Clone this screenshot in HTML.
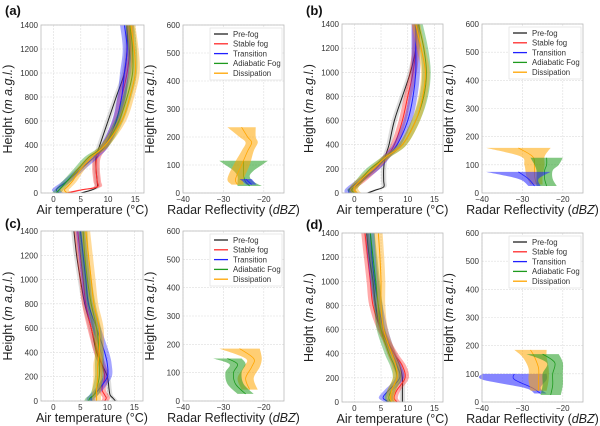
<!DOCTYPE html>
<html><head><meta charset="utf-8"><style>
body{margin:0;background:#fff;}
svg{display:block;font-family:"Liberation Sans","DejaVu Sans",sans-serif;}
</style></head><body>
<svg id="fig" width="600" height="426" viewBox="0 0 600 426" xmlns="http://www.w3.org/2000/svg"></svg>
<script>
const seriesNames=["Pre-fog","Stable fog","Transition","Adiabatic Fog","Dissipation"];
const colors=["#222222","#ff2a2a","#2020ff","#1e9a1e","#ffa500"];
const tHeights=[0,25,50,100,200,300,400,600,800,1000,1200,1400];
const tempA=[[5,7,8,8,7.8,7.8,8.5,10,11.5,13,13.5,13.5],[2.5,5,8,8,7.8,8,9.5,11.5,12.5,13.5,14,14],[1,0.5,1,2.5,5,7.5,9.5,11.5,12.5,13,13.5,13],[0.5,1,1.5,2.5,4.5,6.5,9.5,12,13.5,14.5,14.5,14],[2.5,2,2.5,3.5,5,7,9.5,12.5,14,15,14.8,14.2]];
const tempB=[[2.5,4,5.5,5.5,5.5,5.8,6.5,7.5,9,10.5,11.5,11.5],[0,-0.5,0,1.5,4,6,7.5,9,10,11,11.5,11.5],[-1,-1,-0.5,1,4,6,8,10,11,11.5,11.5,11.5],[0,-0.5,0,1,3,6,9,11.5,13,13.5,13,12],[0.5,0,0,1,3.5,6,9,11.5,12.8,13.3,12.5,11.5]];
const tempC=[[11.5,11,10.5,10.3,10,9,8,7,5.8,5,4.3,3.8],[9.5,9.8,9.5,9,9.5,9,8.2,7,6,5.5,5,4.5],[7,7,7.5,8.5,10,10,9.5,8,6.5,6,5.5,5],[6.5,6.8,7.5,8,8.5,8.5,8.5,8,7,6.3,5.8,5.5],[8,8,8,8,8.2,8.2,8.5,8.5,7.5,7,6.5,6]];
const tempD=[[9,9,9,9,9,8.5,7.5,5,4,3.5,2.8,2.3],[8,7.5,7.5,8,9.5,9,7.5,5,3.5,3,2.5,2],[6.5,5.5,5.5,6.5,8.5,8,7,5.5,4.5,3.8,3.3,3],[6.8,6.5,6.5,7,8,7.5,6.5,5,4.5,4,3.5,3],[7,6.8,6.8,7,8,7.8,7,5.5,5,5,4.8,4.5]];
const tempSpread=[0.5,0.7,0.8,0.8,0.8];
// radar: [seriesIndex, heights, mean, halfwidth]
const radarA=[[3,[25,40,60,80,100,115],[-23.5,-24.5,-25,-25,-25,-25],[3,2,1.5,2.5,4.5,6]],[4,[30,50,100,150,180,200,235],[-26.5,-27,-25.5,-24,-23,-24,-25.5],[1.5,2,2,1.5,1.5,2,3.5]],[2,[30,50],[-23,-24.5],[1.2,1.5]]];
const radarB=[[4,[30,60,100,130,160],[-26.5,-27,-27,-27.5,-31],[1.5,2,2.5,3,8]],[3,[25,50,80,100,125],[-24,-24.5,-24.5,-24,-24],[2.5,2,2,3,4]],[2,[25,50,75],[-27,-28.5,-31],[1.5,2.5,8]]];
const radarC=[[4,[40,80,120,150,185],[-23.5,-24.5,-23,-22.5,-26],[2,2,2,2,5]],[3,[25,60,100,130,150],[-24.5,-27,-27.5,-26.5,-29],[2,2,2,2,3.5]]];
const radarD=[[2,[30,50,80,100],[-25.5,-27.5,-32,-32],[1.5,2,8,8]],[4,[40,80,120,160,185],[-26,-26,-26,-27,-28],[2,2.5,2.5,3,4]],[3,[25,60,100,140,170],[-23,-22.5,-22.5,-22,-25],[2.5,2.5,2.5,2,4]]];
const tempXTicks=[0,5,10,15];
const tempYTicks=[0,200,400,600,800,1000,1200,1400];
const radXTicks=[-40,-30,-20];
const radYTicks=[0,100,200,300,400,500,600];

const svg=document.getElementById('fig');
const NS="http://www.w3.org/2000/svg";
function mk(tag,attrs,parent){const e=document.createElementNS(NS,tag);for(const k in attrs)e.setAttribute(k,attrs[k]);(parent||svg).appendChild(e);return e;}
function smooth(pts,start){
  let d=(start||'M')+pts[0][0].toFixed(2)+','+pts[0][1].toFixed(2);
  for(let i=0;i<pts.length-1;i++){
    const p0=pts[Math.max(0,i-1)],p1=pts[i],p2=pts[i+1],p3=pts[Math.min(pts.length-1,i+2)];
    const c1=[p1[0]+(p2[0]-p0[0])/6,p1[1]+(p2[1]-p0[1])/6],c2=[p2[0]-(p3[0]-p1[0])/6,p2[1]-(p3[1]-p1[1])/6];
    d+=` C${c1[0].toFixed(2)},${c1[1].toFixed(2)} ${c2[0].toFixed(2)},${c2[1].toFixed(2)} ${p2[0].toFixed(2)},${p2[1].toFixed(2)}`;
  }
  return d;
}

function axes(p,name,xt,yt,xlabel){
  const g=mk('g',{});
  
  
  const sx=v=>p.x0+(v-p.xmin)/(p.xmax-p.xmin)*(p.x1-p.x0);
  const sy=v=>p.y1-(v-p.ymin)/(p.ymax-p.ymin)*(p.y1-p.y0);
  xt.forEach(t=>{mk('line',{x1:sx(t),x2:sx(t),y1:p.y0,y2:p.y1,stroke:'#ddd','stroke-width':0.6,'stroke-dasharray':'2,1'},g);
    const tx=mk('text',{x:sx(t),y:p.y1+9,'font-size':8,'text-anchor':'middle',fill:'#333'},g);tx.textContent=t<0?'\u2212'+(-t):t;});
  yt.forEach(t=>{mk('line',{x1:p.x0,x2:p.x1,y1:sy(t),y2:sy(t),stroke:'#ddd','stroke-width':0.6,'stroke-dasharray':'2,1'},g);
    const tx=mk('text',{x:p.x0-3,y:sy(t)+3,'font-size':8,'text-anchor':'end',fill:'#333'},g);tx.textContent=t;});
  const xl=mk('text',{x:(p.x0+p.x1)/2,y:p.y1+21,'font-size':12.5,'text-anchor':'middle',fill:'#222'},g);
  
  xl.innerHTML=xlabel;
  const cy=(p.y0+p.y1)/2,cx=p.x0-29;
  const yl=mk('text',{x:cx,y:cy,'font-size':12.5,'text-anchor':'middle',fill:'#222',transform:`rotate(-90 ${cx} ${cy})`},g);
  
  yl.innerHTML='Height (<tspan font-style="italic">m a.g.l.</tspan>)';
  return {g,sx,sy};
}
function frame(p,g){mk('rect',{x:p.x0,y:p.y0,width:p.x1-p.x0,height:p.y1-p.y0,fill:'none',stroke:'#bbb','stroke-width':0.8},g);}

function tempPanel(p,data,name){
  const a=axes(p,name,tempXTicks,tempYTicks,'Air temperature (°C)');
  const clipId='c'+name;mk('clipPath',{id:clipId},a.g);
  mk('rect',{x:p.x0,y:p.y0,width:p.x1-p.x0,height:p.y1-p.y0},a.g.lastChild);
  const cg=mk('g',{'clip-path':`url(#${clipId})`},a.g);
  data.forEach((s,i)=>{
    const sp=tempSpread[i];
    const up=s.map((v,j)=>[a.sx(v+sp),a.sy(tHeights[j])]);
    const dn=s.map((v,j)=>[a.sx(v-sp),a.sy(tHeights[j])]).reverse();
    const band=mk('path',{d:smooth(up)+smooth(dn,' L')+' Z',fill:colors[i],'fill-opacity':i==0?0.15:0.4},cg);
    
    
    const ln=mk('path',{d:smooth(s.map((v,j)=>[a.sx(v),a.sy(tHeights[j])])),fill:'none',stroke:colors[i],'stroke-width':1},cg);
    
    
  });
  frame(p,a.g);
}
function radarPanel(p,data,name){
  const a=axes(p,name,radXTicks,radYTicks,'Radar Reflectivity (<tspan font-style="italic">dBZ</tspan>)');
  data.forEach(s=>{
    const [i,h,m,w]=s;
    const up=m.map((v,j)=>[a.sx(v+w[j]),a.sy(h[j])]);
    const dn=m.map((v,j)=>[a.sx(v-w[j]),a.sy(h[j])]).reverse();
    const band=mk('path',{d:smooth(up)+smooth(dn,' L')+' Z',fill:colors[i],'fill-opacity':0.55},a.g);
    
    
    const ln=mk('path',{d:smooth(m.map((v,j)=>[a.sx(v),a.sy(h[j])])),fill:'none',stroke:colors[i],'stroke-width':0.8},a.g);
    
    
  });
  frame(p,a.g);
  const lg=mk('g',{},a.g);
  
  mk('rect',{x:p.x0+27,y:p.y0+3,width:72,height:52,fill:'#fff',stroke:'#ddd','stroke-width':0.6},lg);
  seriesNames.forEach((n,i)=>{
    const yy=p.y0+9+i*9.8;
    const e=mk('g',{},lg);
    
    mk('line',{x1:p.x0+31,x2:p.x0+45,y1:yy,y2:yy,stroke:colors[i],'stroke-width':1.3},e);
    const t=mk('text',{x:p.x0+50,y:yy+2.8,'font-size':7.8,fill:'#333'},e);t.textContent=n;
  });
}
const T={xmin:-2.3,xmax:16.6,ymin:0,ymax:1400},R={xmin:-40,xmax:-15,ymin:0,ymax:600};
const panels=[
 ['a',5,10,{x0:41,x1:144,y0:25,y1:193},{x0:183,x1:284,y0:25,y1:193},tempA,radarA],
 ['b',306,10,{x0:342,x1:443,y0:24,y1:193},{x0:482,x1:583,y0:24,y1:193},tempB,radarB],
 ['c',5,223,{x0:41,x1:143,y0:231,y1:401},{x0:183,x1:284,y0:231,y1:401},tempC,radarC],
 ['d',306,224,{x0:342,x1:443,y0:233,y1:402},{x0:482,x1:583,y0:233,y1:402},tempD,radarD]];
panels.forEach(([l,lx,ly,tp,rp,td,rd])=>{
  const t=mk('text',{x:lx,y:ly+5,'font-size':13,'font-weight':'bold',fill:'#111'});
  
  t.textContent='('+l+')';
  tempPanel(Object.assign({},T,tp),td,'temp-panel-'+l);
  radarPanel(Object.assign({},R,rp),rd,'radar-panel-'+l);
});
</script>
</body></html>
